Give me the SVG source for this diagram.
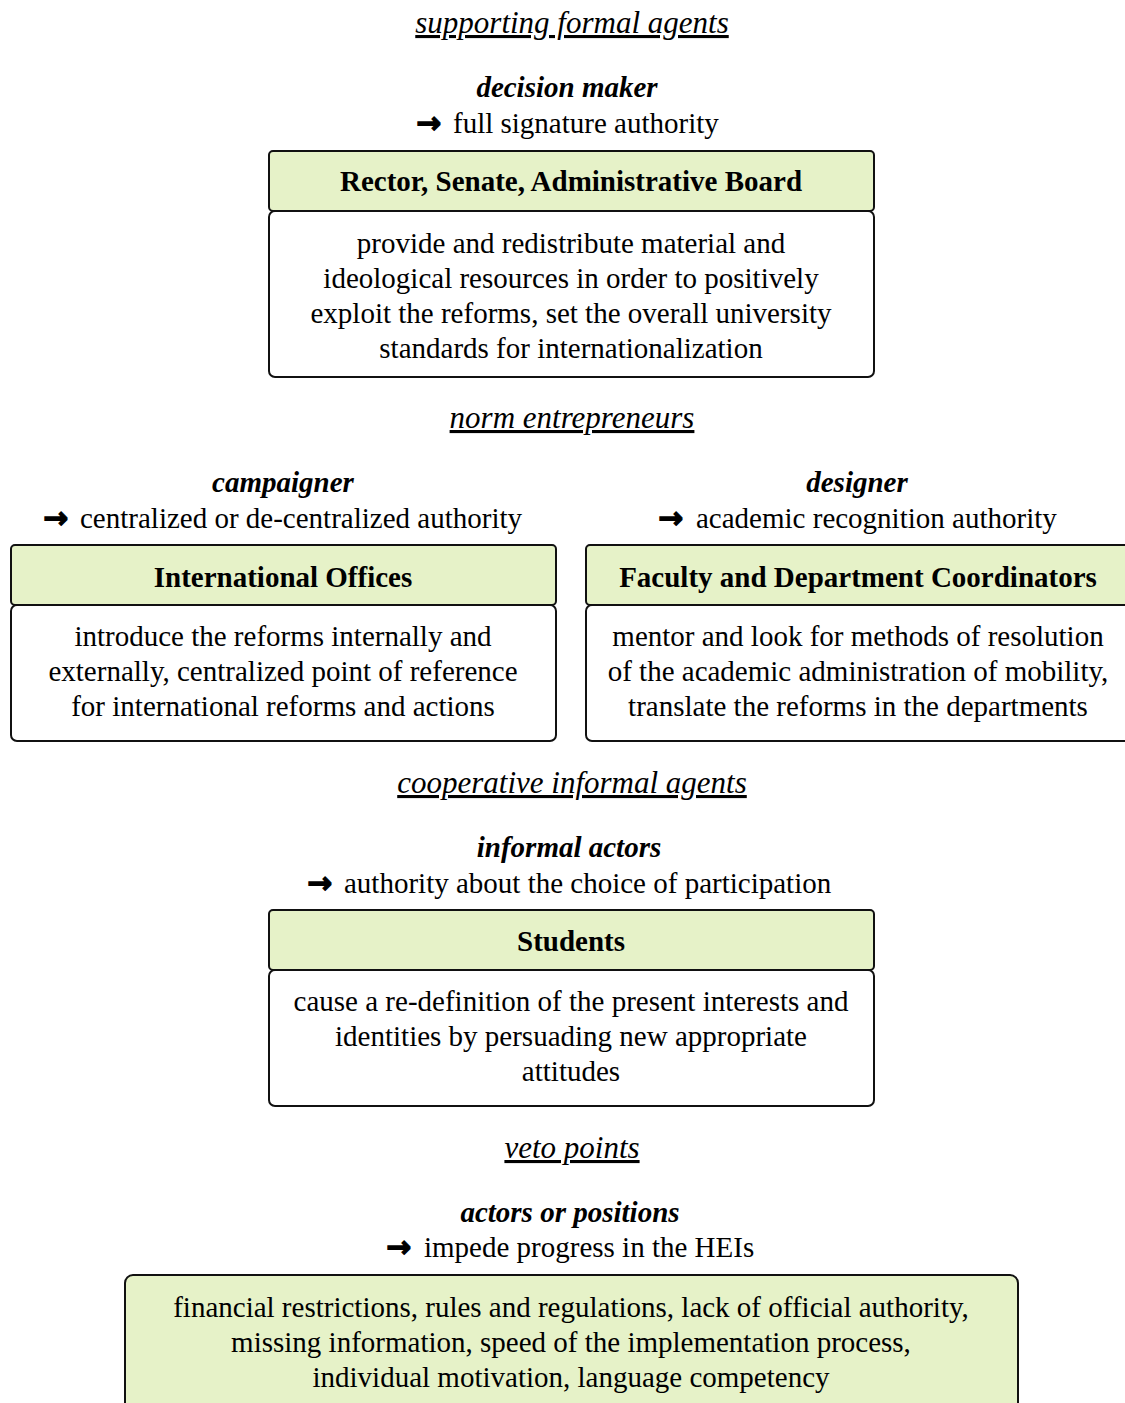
<svg xmlns="http://www.w3.org/2000/svg" width="1125" height="1403" viewBox="0 0 1125 1403">
<style>
text{font-family:"Liberation Serif","Times New Roman",serif;font-size:29px;fill:#000}
.sec{font-style:italic;text-decoration:underline;text-anchor:middle;font-size:31px}
.role{font-style:italic;font-weight:bold;text-anchor:middle}
.auth{text-anchor:start}
.arr{font-family:"DejaVu Sans",sans-serif;font-weight:bold;font-size:30px;stroke:#000;stroke-width:1.2}
.hd{font-weight:bold;text-anchor:middle}
.bd{text-anchor:middle}
.hbox{fill:#e6f2c8;stroke:#111;stroke-width:2}
.bbox{fill:#fff;stroke:#111;stroke-width:2}
</style>
<rect width="1125" height="1403" fill="#fff"/>

<g id="sections">
<text class="sec" x="572" y="33">supporting formal agents</text>
<text class="sec" x="572" y="428">norm entrepreneurs</text>
<text class="sec" x="572" y="793">cooperative informal agents</text>
<text class="sec" x="572" y="1158">veto points</text>
</g>

<g id="decision-maker">
<text class="role" x="567" y="97">decision maker</text>
<text class="arr" x="416" y="133">→</text>
<text class="auth" x="453" y="133">full signature authority</text>
<rect class="hbox" x="269" y="151" width="605" height="60" rx="4"/>
<text class="hd" x="571" y="191">Rector, Senate, Administrative Board</text>
<rect class="bbox" x="269" y="211" width="605" height="166" rx="6"/>
<text class="bd" x="571" y="253">provide and redistribute material and</text>
<text class="bd" x="571" y="288">ideological resources in order to positively</text>
<text class="bd" x="571" y="323">exploit the reforms, set the overall university</text>
<text class="bd" x="571" y="358">standards for internationalization</text>
</g>

<g id="campaigner">
<text class="role" x="283" y="492">campaigner</text>
<text class="arr" x="43" y="528">→</text>
<text class="auth" x="80" y="528">centralized or de-centralized authority</text>
<rect class="hbox" x="11" y="545" width="545" height="60" rx="4"/>
<text class="hd" x="283" y="587">International Offices</text>
<rect class="bbox" x="11" y="605" width="545" height="136" rx="6"/>
<text class="bd" x="283" y="646">introduce the reforms internally and</text>
<text class="bd" x="283" y="681">externally, centralized point of reference</text>
<text class="bd" x="283" y="716">for international reforms and actions</text>
</g>

<g id="designer">
<text class="role" x="857" y="492">designer</text>
<text class="arr" x="658" y="528">→</text>
<text class="auth" x="696" y="528">academic recognition authority</text>
<rect class="hbox" x="586" y="545" width="560" height="60" rx="4"/>
<text class="hd" x="858" y="587">Faculty and Department Coordinators</text>
<rect class="bbox" x="586" y="605" width="560" height="136" rx="6"/>
<text class="bd" x="858" y="646">mentor and look for methods of resolution</text>
<text class="bd" x="858" y="681">of the academic administration of mobility,</text>
<text class="bd" x="858" y="716">translate the reforms in the departments</text>
</g>

<g id="students">
<text class="role" x="569" y="857">informal actors</text>
<text class="arr" x="307" y="893">→</text>
<text class="auth" x="344" y="893">authority about the choice of participation</text>
<rect class="hbox" x="269" y="910" width="605" height="60" rx="4"/>
<text class="hd" x="571" y="951">Students</text>
<rect class="bbox" x="269" y="970" width="605" height="136" rx="6"/>
<text class="bd" x="571" y="1011">cause a re-definition of the present interests and</text>
<text class="bd" x="571" y="1046">identities by persuading new appropriate</text>
<text class="bd" x="571" y="1081">attitudes</text>
</g>

<g id="veto">
<text class="role" x="570" y="1222">actors or positions</text>
<text class="arr" x="386" y="1257">→</text>
<text class="auth" x="424" y="1257">impede progress in the HEIs</text>
<rect class="hbox" x="125" y="1275" width="893" height="160" rx="8"/>
<text class="bd" x="571" y="1317">financial restrictions, rules and regulations, lack of official authority,</text>
<text class="bd" x="571" y="1352">missing information, speed of the implementation process,</text>
<text class="bd" x="571" y="1387">individual motivation, language competency</text>
</g>

<g id="connectors"></g>
</svg>
